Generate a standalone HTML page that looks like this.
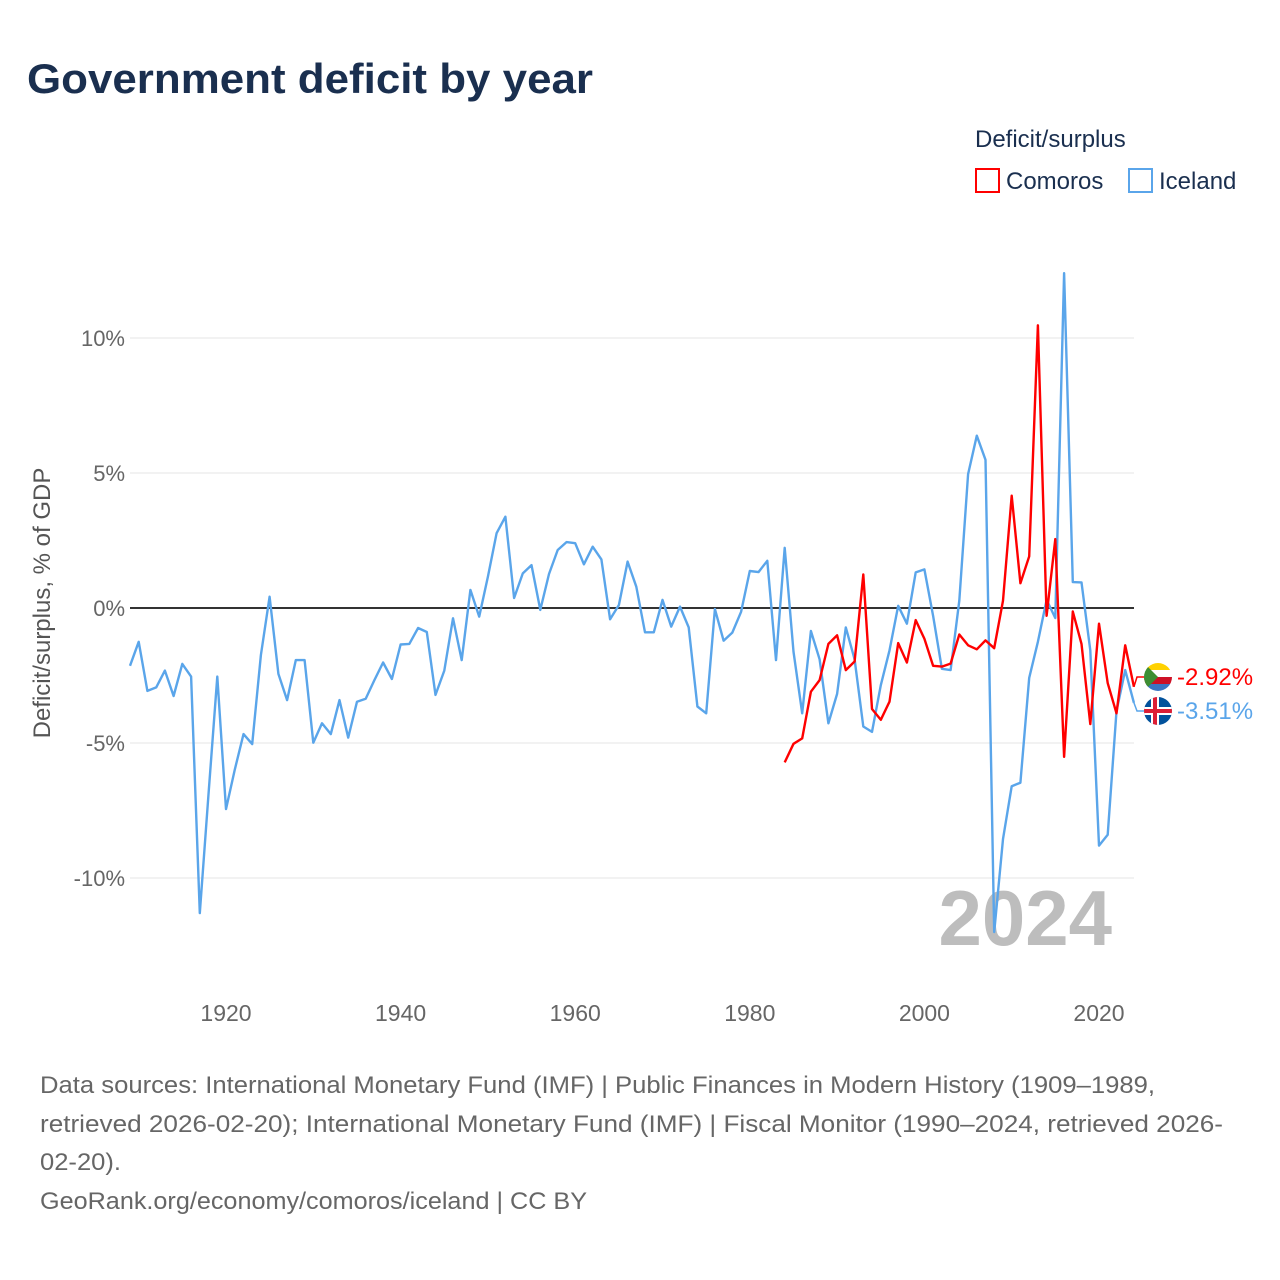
<!DOCTYPE html>
<html><head><meta charset="utf-8"><style>
body{margin:0;background:#fff;font-family:"Liberation Sans",sans-serif;}
svg{display:block}
</style></head><body>
<svg id="chart" width="1280" height="1280" viewBox="0 0 1280 1280">
<text x="27" y="93" font-size="42" font-weight="bold" fill="#1a2f4f" textLength="566" lengthAdjust="spacingAndGlyphs">Government deficit by year</text>
<text x="975" y="147" font-size="24" fill="#1a2f4f">Deficit/surplus</text>
<g><rect x="976" y="169" width="23" height="23" fill="none" stroke="#ff0000" stroke-width="2"/><text x="1006" y="189" font-size="24" fill="#1a2f4f">Comoros</text></g>
<g><rect x="1129" y="169" width="23" height="23" fill="none" stroke="#5aa5ea" stroke-width="2"/><text x="1159" y="189" font-size="24" fill="#1a2f4f">Iceland</text></g>
<text transform="translate(50,603) rotate(-90)" text-anchor="middle" font-size="24" fill="#555">Deficit/surplus, % of GDP</text>
<text x="1112" y="945" text-anchor="end" font-size="78" font-weight="bold" fill="#bdbdbd">2024</text>
<g id="grid"></g><g id="series"></g><g id="ends"></g>
<g font-size="24" fill="#666">
<text x="40" y="1093" textLength="1115" lengthAdjust="spacingAndGlyphs">Data sources: International Monetary Fund (IMF) | Public Finances in Modern History (1909–1989,</text>
<text x="40" y="1132" textLength="1183" lengthAdjust="spacingAndGlyphs">retrieved 2026-02-20); International Monetary Fund (IMF) | Fiscal Monitor (1990–2024, retrieved 2026-</text>
<text x="40" y="1170" textLength="81" lengthAdjust="spacingAndGlyphs">02-20).</text>
<text x="40" y="1209" textLength="547" lengthAdjust="spacingAndGlyphs">GeoRank.org/economy/comoros/iceland | CC BY</text>
</g>
</svg>
<script>
const icelandStart = 1909;
const icelandValues = [-2.14,-1.25,-3.07,-2.94,-2.32,-3.26,-2.07,-2.54,-11.3,-6.9,-2.54,-7.45,-6.0,-4.67,-5.04,-1.74,0.42,-2.44,-3.41,-1.93,-1.93,-4.99,-4.27,-4.67,-3.41,-4.8,-3.47,-3.36,-2.67,-2.02,-2.63,-1.35,-1.33,-0.74,-0.89,-3.22,-2.32,-0.38,-1.93,0.67,-0.32,1.16,2.77,3.38,0.37,1.28,1.59,-0.07,1.26,2.15,2.44,2.4,1.62,2.27,1.8,-0.42,0.11,1.72,0.79,-0.9,-0.9,0.3,-0.69,0.05,-0.72,-3.65,-3.9,-0.04,-1.21,-0.91,-0.14,1.37,1.33,1.75,-1.93,2.23,-1.62,-3.9,-0.85,-1.9,-4.27,-3.18,-0.72,-1.9,-4.39,-4.59,-2.86,-1.57,0.08,-0.58,1.32,1.43,-0.29,-2.25,-2.3,0.27,4.96,6.38,5.49,-12.0,-8.56,-6.6,-6.47,-2.59,-1.25,0.3,-0.37,12.4,0.96,0.95,-1.57,-8.8,-8.4,-3.82,-2.3,-3.51];
const comorosStart = 1984;
const comorosValues = [-5.72,-5.03,-4.83,-3.1,-2.67,-1.33,-1.01,-2.3,-1.98,1.24,-3.74,-4.14,-3.47,-1.3,-2.02,-0.45,-1.14,-2.14,-2.17,-2.06,-0.98,-1.38,-1.53,-1.2,-1.49,0.27,4.16,0.92,1.91,10.47,-0.29,2.55,-5.51,-0.13,-1.33,-4.3,-0.58,-2.78,-3.9,-1.38,-2.92];
const yTicks = [10,5,0,-5,-10];
const yTickLabels = ["10%","5%","0%","-5%","-10%"];
const xTicks = [1920,1940,1960,1980,2000,2020];

const NS="http://www.w3.org/2000/svg";
const X = yr => 226 + (yr-1920)*8.73;
const Y = v => 608 - v*27;
function mk(tag, attrs, parent){const e=document.createElementNS(NS,tag);for(const k in attrs)e.setAttribute(k,attrs[k]);parent.appendChild(e);return e;}
const grid=document.getElementById('grid'), series=document.getElementById('series'), ends=document.getElementById('ends');
yTicks.forEach((t,i)=>{
  const l=mk('line',{x1:130,x2:1134,y1:Y(t),y2:Y(t),stroke:t===0?'#333':'#e6e6e6','stroke-width':t===0?2:1},grid);
  
  
  const tx=mk('text',{x:125,y:Y(t)+8,'text-anchor':'end','font-size':22,fill:'#666'},grid);
  tx.textContent=yTickLabels[i];
  
  
});
xTicks.forEach(t=>{
  const tx=mk('text',{x:X(t),y:1021,'text-anchor':'middle','font-size':23,fill:'#666'},grid);
  tx.textContent=t;
  
  
});
function line(start, vals, color, name){
  const pts=vals.map((v,i)=>X(start+i).toFixed(1)+','+Y(v).toFixed(1)).join(' ');
  const p=mk('polyline',{points:pts,fill:'none',stroke:color,'stroke-width':2.4,'stroke-linejoin':'round'},series);
  
  
}
line(icelandStart, icelandValues, '#5aa5ea', 'iceland-line');
line(comorosStart, comorosValues, '#ff0000', 'comoros-line');

const cLast = comorosValues[comorosValues.length-1], iLast = icelandValues[icelandValues.length-1];
const lastYear = comorosStart + comorosValues.length - 1;
const cy1 = 677, cy2 = 711;
mk('polyline',{points:`${X(lastYear)},${Y(cLast)} 1137,${cy1} 1144,${cy1}`,fill:'none',stroke:'#ff0000','stroke-width':1.5},ends);
mk('polyline',{points:`${X(lastYear)},${Y(iLast)} 1137,${cy2} 1144,${cy2}`,fill:'none',stroke:'#5aa5ea','stroke-width':1.5},ends);
const defs=mk('defs',{},ends);
const cp1=mk('clipPath',{id:'c1'},defs); mk('circle',{cx:1158,cy:cy1,r:14},cp1);
const cp2=mk('clipPath',{id:'c2'},defs); mk('circle',{cx:1158,cy:cy2,r:14},cp2);
const f1=mk('g',{'clip-path':'url(#c1)'},ends);


mk('rect',{x:1144,y:cy1-14,width:28,height:7,fill:'#ffd100'},f1);
mk('rect',{x:1144,y:cy1-7,width:28,height:7,fill:'#fff'},f1);
mk('rect',{x:1144,y:cy1,width:28,height:7,fill:'#ce1126'},f1);
mk('rect',{x:1144,y:cy1+7,width:28,height:7,fill:'#3a75c4'},f1);
mk('path',{d:`M1144 ${cy1-14} L1158 ${cy1} L1144 ${cy1+14} Z`,fill:'#3d8e33'},f1);
const f2=mk('g',{'clip-path':'url(#c2)'},ends);


mk('rect',{x:1144,y:cy2-14,width:28,height:28,fill:'#02529c'},f2);
mk('rect',{x:1144,y:cy2-4,width:28,height:8,fill:'#fff'},f2);
mk('rect',{x:1151,y:cy2-14,width:8,height:28,fill:'#fff'},f2);
mk('rect',{x:1144,y:cy2-2,width:28,height:4,fill:'#dc1e35'},f2);
mk('rect',{x:1153,y:cy2-14,width:4,height:28,fill:'#dc1e35'},f2);
const t1=mk('text',{x:1177,y:cy1+8,'font-size':24,fill:'#ff0000'},ends);
t1.textContent=cLast.toFixed(2)+'%';


const t2=mk('text',{x:1177,y:cy2+8,'font-size':24,fill:'#5aa5ea'},ends);
t2.textContent=iLast.toFixed(2)+'%';


</script>
</body></html>
